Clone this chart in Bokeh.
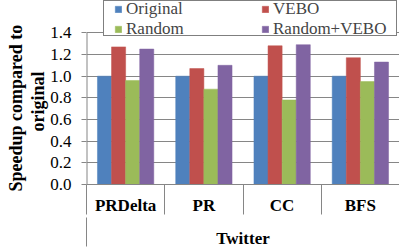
import numpy as np
from bokeh.plotting import figure
from bokeh.models import (ColumnDataSource, FixedTicker, LinearAxis, Legend, LegendItem,
                          NumeralTickFormatter, Range1d, Title)
from bokeh.transform import dodge
from bokeh.embed import file_html
from bokeh.resources import INLINE

# ---- data ----
categories = ["PRDelta", "PR", "CC", "BFS"]
group_label = "Twitter"
series = ["Original", "VEBO", "Random", "Random+VEBO"]
original = [1.00, 1.00, 1.00, 1.00]
vebo = [1.27, 1.07, 1.28, 1.17]
random_order = [0.96, 0.88, 0.78, 0.95]
random_vebo = [1.25, 1.10, 1.29, 1.13]
y_ticks = [0.0, 0.2, 0.4, 0.6, 0.8, 1.0, 1.2, 1.4]
y_label_lines = ["Speedup compared to", "original"]

colors = ["#4F81BD", "#C0504D", "#9BBB59", "#8064A2"]
GRAY = "#868686"
FONT = "Liberation Serif"

# ---- layout (pixels) ----
W, H = 399, 250
LEFT, BOTTOM = 86, 62
PLOT_TOP = 33.0          # pixel row of the top y tick inside the canvas
frame_h = H - BOTTOM
y_top = y_ticks[-1] * frame_h / (frame_h - PLOT_TOP)

n = len(categories)
centers = [i + 0.5 for i in range(n)]
source = ColumnDataSource(dict(x=centers, original=original, vebo=vebo,
                               random=random_order, random_vebo=random_vebo))

p = figure(width=W, height=H, output_backend="svg", toolbar_location=None,
           x_range=Range1d(0, n), y_range=Range1d(y_ticks[0], y_top),
           min_border_left=LEFT, min_border_right=0, min_border_top=0, min_border_bottom=BOTTOM,
           outline_line_color=None, background_fill_color="white", border_fill_color="white")

bw = 0.18
offsets = [-1.5 * bw, -0.5 * bw, 0.5 * bw, 1.5 * bw]
fields = ["original", "vebo", "random", "random_vebo"]
renderers = []
for f, off, c in zip(fields, offsets, colors):
    r = p.vbar(x=dodge("x", off, range=p.x_range), top=f, width=bw, source=source,
               fill_color=c, line_color=c, line_width=0.5)
    renderers.append(r)

# y axis line only over the tick span
p.segment(x0=[0], y0=[y_ticks[0]], x1=[0], y1=[y_ticks[-1]], line_color=GRAY, line_width=2)

# y axis
ya = p.yaxis[0]
ya.ticker = FixedTicker(ticks=y_ticks)
ya.formatter = NumeralTickFormatter(format="0.0")
ya.major_tick_out = 5
ya.major_tick_in = 0
ya.minor_tick_line_color = None
ya.axis_line_color = None
ya.major_tick_line_color = GRAY
ya.major_label_standoff = 10
ya.major_label_text_font = FONT
ya.major_label_text_font_size = "17px"
ya.major_label_text_color = "black"

# y axis title: two lines as two titles in the left panel
t2 = Title(text=y_label_lines[1], align="left", offset=53, standoff=0,
           text_font=FONT, text_font_style="bold", text_font_size="18px", text_color="black")
t1 = Title(text=y_label_lines[0], align="left", offset=-7, standoff=0,
           text_font=FONT, text_font_style="bold", text_font_size="18px", text_color="black")
p.add_layout(t2, "left")
p.add_layout(t1, "left")

p.ygrid.grid_line_color = GRAY
p.xgrid.visible = False

# x axis (categories)
xa = p.xaxis[0]
xa.ticker = FixedTicker(ticks=centers, minor_ticks=list(range(n + 1)))
xa.major_label_overrides = {c: lab for c, lab in zip(centers, categories)}
xa.major_tick_out = 0
xa.major_tick_in = 0
xa.major_tick_line_color = None
xa.minor_tick_out = 30
xa.minor_tick_in = 0
xa.minor_tick_line_color = GRAY
xa.axis_line_color = GRAY
xa.major_label_standoff = -19
xa.major_label_text_font = FONT
xa.major_label_text_font_style = "bold"
xa.major_label_text_font_size = "17px"
xa.major_label_text_color = "black"

# outer group axis
xa2 = LinearAxis(ticker=FixedTicker(ticks=[n / 2], minor_ticks=[0, n]))
xa2.major_label_overrides = {n / 2: group_label}
xa2.axis_line_color = None
xa2.major_tick_line_color = None
xa2.major_tick_out = 0
xa2.major_tick_in = 0
xa2.minor_tick_out = 29
xa2.minor_tick_in = 0
xa2.minor_tick_line_color = GRAY
xa2.major_label_standoff = -18
xa2.major_label_text_font = FONT
xa2.major_label_text_font_style = "bold"
xa2.major_label_text_font_size = "17px"
xa2.major_label_text_color = "black"
p.add_layout(xa2, "below")

# legend frame: white box with black border
dummy = p.vbar(x=[], top=[], width=0.1, fill_alpha=0, line_alpha=0)
legC = Legend(items=[LegendItem(label="\u00a0", renderers=[dummy])], location=(17, 148),
              padding=0, spacing=0, margin=0, glyph_width=290, glyph_height=34,
              label_standoff=0, label_width=0, label_height=0, label_text_font_size="6px",
              border_line_color="black", border_line_width=1,
              background_fill_color="white", background_fill_alpha=1)
p.add_layout(legC)

common = dict(padding=0, spacing=0, border_line_color=None, background_fill_alpha=0,
              glyph_width=8, glyph_height=8, label_standoff=4,
              label_text_font=FONT, label_text_font_size="17px", margin=0)
legA = Legend(items=[LegendItem(label=series[0], renderers=[renderers[0]]),
                     LegendItem(label=series[2], renderers=[renderers[2]])],
              location=(28, 145), **common)
legB = Legend(items=[LegendItem(label=series[1], renderers=[renderers[1]]),
                     LegendItem(label=series[3], renderers=[renderers[3]])],
              location=(175, 145), **common)
p.add_layout(legA)
p.add_layout(legB)

open("out.html", "w").write(file_html(p, INLINE))
